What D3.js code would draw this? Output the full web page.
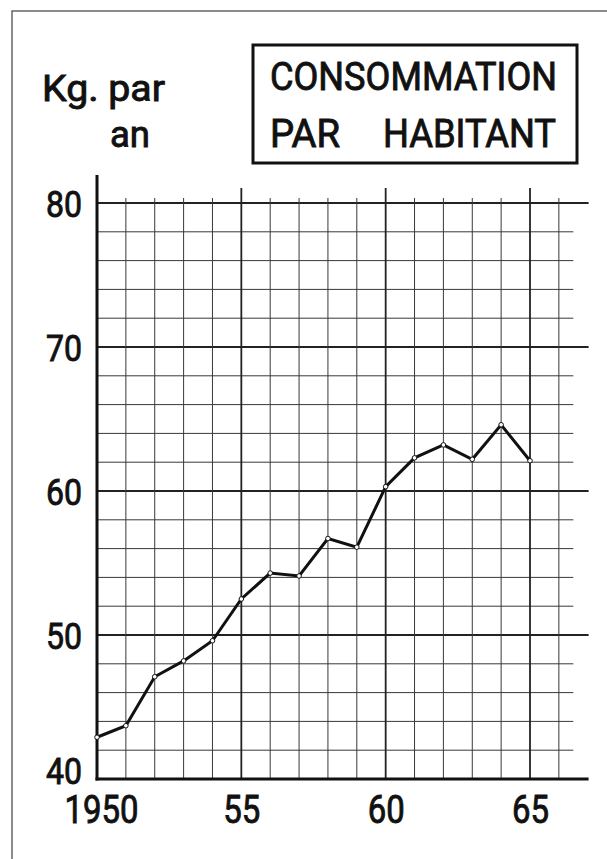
<!DOCTYPE html>
<html>
<head>
<meta charset="utf-8">
<script src="https://cdn.jsdelivr.net/npm/d3@7/dist/d3.min.js"></script>
<style>
  html, body { margin: 0; padding: 0; background: #fff; }
  svg { display: block; }
  text { font-family: Roboto, "Liberation Sans", sans-serif; fill: #111; font-weight: 400; stroke: #111; stroke-width: 0.9px; }
</style>
</head>
<body>
<svg id="chart" width="607" height="859"></svg>
<script>
// ---- data ----
const years = [1950, 1951, 1952, 1953, 1954, 1955, 1956, 1957, 1958, 1959, 1960, 1961, 1962, 1963, 1964, 1965];
const consumption = [42.9, 43.7, 47.1, 48.2, 49.6, 52.5, 54.3, 54.1, 56.7, 56.1, 60.3, 62.3, 63.2, 62.2, 64.6, 62.1];
const yTickValues = [40, 50, 60, 70, 80];
const xTickValues = [1950, 1955, 1960, 1965];
const xTickLabels = ["1950", "55", "60", "65"];
const titleLines = ["CONSOMMATION", ["PAR", "HABITANT"]];
const unitLines = ["Kg. par", "an"];

// ---- layout ----
const svg = d3.select("#chart");
const x = d3.scaleLinear().domain([1950, 1965]).range([97, 530]);
const y = d3.scaleLinear().domain([40, 80]).range([779, 203]);
const xEnd = x(1967.03);           // end of x axis / major gridlines
const minorEnd = x(1966.5);        // end of minor horizontal gridlines

// outer frame (only left and top edges visible)
svg.append("path").attr("d", "M12,859 L12,11 L607,11")
  .attr("fill", "none").attr("stroke", "#666").attr("stroke-width", 1.5);

// horizontal gridlines every 2 units
const hVals = d3.range(42, 81, 2);
svg.append("g").selectAll("line").data(hVals).join("line")
  .attr("x1", x(1950)).attr("x2", d => d % 10 === 0 ? xEnd : minorEnd)
  .attr("y1", d => y(d)).attr("y2", d => y(d))
  .attr("stroke", d => d % 10 === 0 ? "#222" : "#383838")
  .attr("stroke-width", d => d % 10 === 0 ? 1.8 : 1);

// vertical gridlines every year
const vVals = d3.range(1951, 1967);
svg.append("g").selectAll("line").data(vVals).join("line")
  .attr("x1", d => x(d)).attr("x2", d => x(d))
  .attr("y1", d => d % 5 === 0 ? 188 : 198).attr("y2", y(40))
  .attr("stroke", d => d % 5 === 0 ? "#222" : "#383838")
  .attr("stroke-width", d => d % 5 === 0 ? 1.8 : 1);

// axes lines
svg.append("line").attr("x1", x(1950)).attr("x2", x(1950)).attr("y1", 175).attr("y2", y(40) + 1.5)
  .attr("stroke", "#111").attr("stroke-width", 3);
svg.append("line").attr("x1", x(1950) - 1.5).attr("x2", xEnd).attr("y1", y(40)).attr("y2", y(40))
  .attr("stroke", "#111").attr("stroke-width", 3);

// y axis labels
const yAxis = d3.axisLeft(y).tickValues(yTickValues).tickSize(0).tickPadding(0);
const gy = svg.append("g").attr("transform", "translate(82,0)").call(yAxis);
gy.select(".domain").remove();
gy.selectAll("text")
  .attr("font-family", "Roboto, sans-serif")
  .attr("font-size", 37)
  .attr("fill", "#111")
  .attr("dy", d => d === 40 ? "0.12em" : "0.36em")
  .attr("textLength", 36).attr("lengthAdjust", "spacingAndGlyphs");

// x axis labels
const xAxis = d3.axisBottom(x).tickValues(xTickValues)
  .tickFormat((d, i) => xTickLabels[i]).tickSize(0).tickPadding(0);
const gx = svg.append("g").attr("transform", "translate(0,796)").call(xAxis);
gx.select(".domain").remove();
gx.selectAll("text")
  .attr("font-family", "Roboto, sans-serif")
  .attr("font-size", 38)
  .attr("fill", "#111")
  .attr("dy", "0.71em")
  .attr("dx", (d, i) => i === 0 ? 4 : 0)
  .attr("textLength", (d, i) => xTickLabels[i].length * 18.5)
  .attr("lengthAdjust", "spacingAndGlyphs");

// data line
const line = d3.line().x((d, i) => x(years[i])).y(d => y(d));
svg.append("path").datum(consumption)
  .attr("d", line).attr("fill", "none")
  .attr("stroke", "#111").attr("stroke-width", 3).attr("stroke-linejoin", "miter");
svg.append("g").selectAll("circle").data(consumption).join("circle")
  .attr("cx", (d, i) => x(years[i])).attr("cy", d => y(d))
  .attr("r", 2.3).attr("fill", "#fff").attr("stroke", "#111").attr("stroke-width", 1);

// unit label
svg.append("text").attr("x", 42).attr("y", 101).attr("font-size", 36)
  .attr("textLength", 123).attr("lengthAdjust", "spacingAndGlyphs").text(unitLines[0]);
svg.append("text").attr("x", 110).attr("y", 147).attr("font-size", 36)
  .attr("textLength", 40).attr("lengthAdjust", "spacingAndGlyphs").text(unitLines[1]);

// title box
svg.append("rect").attr("x", 253).attr("y", 45).attr("width", 324).attr("height", 118)
  .attr("fill", "none").attr("stroke", "#111").attr("stroke-width", 3);
svg.append("text").attr("x", 270).attr("y", 90).attr("font-size", 38)
  .attr("textLength", 287).attr("lengthAdjust", "spacingAndGlyphs").text(titleLines[0]);
svg.append("text").attr("x", 270).attr("y", 147).attr("font-size", 38)
  .attr("textLength", 70).attr("lengthAdjust", "spacingAndGlyphs").text(titleLines[1][0]);
svg.append("text").attr("x", 383).attr("y", 147).attr("font-size", 38)
  .attr("textLength", 173).attr("lengthAdjust", "spacingAndGlyphs").text(titleLines[1][1]);
</script>
</body>
</html>
